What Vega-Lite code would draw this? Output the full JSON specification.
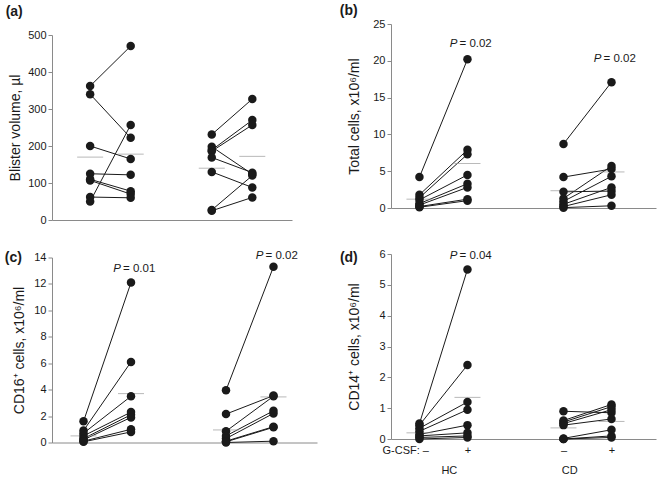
{
"$schema":"https://vega.github.io/schema/vega-lite/v6.json",
"background":"white",
"padding":{"left":4,"top":4,"right":4,"bottom":2},
"config":{
 "font":"Liberation Sans",
 "view":{"stroke":null},
 "axis":{"grid":false,"domainColor":"#8a8a8a","tickColor":"#8a8a8a","labelColor":"#1a1a1a","titleColor":"#1a1a1a","labelFontSize":11,"titleFontSize":14,"titleFontWeight":"normal","labelFont":"Liberation Sans","titleFont":"Liberation Sans"},
 "axisY":{"tickSize":4,"labelPadding":2},
 "title":{"anchor":"start","frame":"bounds","fontSize":14,"fontWeight":"bold","color":"#1a1a1a","font":"Liberation Sans"},
 "line":{"color":"#1a1a1a","strokeWidth":1},
 "circle":{"color":"#1a1a1a","size":72,"opacity":1},
 "tick":{"color":"#9a9a9a","thickness":1,"size":26},
 "text":{"fontSize":11.5,"color":"#1a1a1a","baseline":"middle"}
},
"datasets":{
 "a":[
  {"s":1,"g":"HC","c":"HC-","v":362},{"s":1,"g":"HC","c":"HC+","v":470},
  {"s":2,"g":"HC","c":"HC-","v":340},{"s":2,"g":"HC","c":"HC+","v":222},
  {"s":3,"g":"HC","c":"HC-","v":200},{"s":3,"g":"HC","c":"HC+","v":165},
  {"s":4,"g":"HC","c":"HC-","v":125},{"s":4,"g":"HC","c":"HC+","v":122},
  {"s":5,"g":"HC","c":"HC-","v":110},{"s":5,"g":"HC","c":"HC+","v":78},
  {"s":6,"g":"HC","c":"HC-","v":107},{"s":6,"g":"HC","c":"HC+","v":70},
  {"s":7,"g":"HC","c":"HC-","v":62},{"s":7,"g":"HC","c":"HC+","v":60},
  {"s":8,"g":"HC","c":"HC-","v":50},{"s":8,"g":"HC","c":"HC+","v":257},
  {"s":9,"g":"CD","c":"CD-","v":231},{"s":9,"g":"CD","c":"CD+","v":327},
  {"s":10,"g":"CD","c":"CD-","v":198},{"s":10,"g":"CD","c":"CD+","v":124},
  {"s":11,"g":"CD","c":"CD-","v":189},{"s":11,"g":"CD","c":"CD+","v":270},
  {"s":12,"g":"CD","c":"CD-","v":186},{"s":12,"g":"CD","c":"CD+","v":257},
  {"s":13,"g":"CD","c":"CD-","v":169},{"s":13,"g":"CD","c":"CD+","v":128},
  {"s":14,"g":"CD","c":"CD-","v":130},{"s":14,"g":"CD","c":"CD+","v":88},
  {"s":15,"g":"CD","c":"CD-","v":27},{"s":15,"g":"CD","c":"CD+","v":120},
  {"s":16,"g":"CD","c":"CD-","v":25},{"s":16,"g":"CD","c":"CD+","v":61}
 ],
 "am":[{"c":"HC-","v":170},{"c":"HC+","v":178},{"c":"CD-","v":140},{"c":"CD+","v":172}],
 "b":[
  {"s":1,"g":"HC","c":"HC-","v":4.2},{"s":1,"g":"HC","c":"HC+","v":20.2},
  {"s":2,"g":"HC","c":"HC-","v":1.8},{"s":2,"g":"HC","c":"HC+","v":7.9},
  {"s":3,"g":"HC","c":"HC-","v":1.4},{"s":3,"g":"HC","c":"HC+","v":7.3},
  {"s":4,"g":"HC","c":"HC-","v":1.1},{"s":4,"g":"HC","c":"HC+","v":4.5},
  {"s":5,"g":"HC","c":"HC-","v":0.6},{"s":5,"g":"HC","c":"HC+","v":3.3},
  {"s":6,"g":"HC","c":"HC-","v":0.4},{"s":6,"g":"HC","c":"HC+","v":2.8},
  {"s":7,"g":"HC","c":"HC-","v":0.2},{"s":7,"g":"HC","c":"HC+","v":1.2},
  {"s":8,"g":"HC","c":"HC-","v":0.1},{"s":8,"g":"HC","c":"HC+","v":1.0},
  {"s":9,"g":"CD","c":"CD-","v":8.7},{"s":9,"g":"CD","c":"CD+","v":17.1},
  {"s":10,"g":"CD","c":"CD-","v":4.2},{"s":10,"g":"CD","c":"CD+","v":5.3},
  {"s":11,"g":"CD","c":"CD-","v":2.2},{"s":11,"g":"CD","c":"CD+","v":2.3},
  {"s":12,"g":"CD","c":"CD-","v":1.3},{"s":12,"g":"CD","c":"CD+","v":5.7},
  {"s":13,"g":"CD","c":"CD-","v":0.9},{"s":13,"g":"CD","c":"CD+","v":4.3},
  {"s":14,"g":"CD","c":"CD-","v":0.5},{"s":14,"g":"CD","c":"CD+","v":2.8},
  {"s":15,"g":"CD","c":"CD-","v":0.2},{"s":15,"g":"CD","c":"CD+","v":1.8},
  {"s":16,"g":"CD","c":"CD-","v":0.05},{"s":16,"g":"CD","c":"CD+","v":0.3}
 ],
 "bm":[{"c":"HC-","v":1.2},{"c":"HC+","v":6.05},{"c":"CD-","v":2.35},{"c":"CD+","v":4.9}],
 "bp":[{"c":"HC+","v":22.3,"t":"= 0.02"},{"c":"CD+","v":20.3,"t":"= 0.02"}],
 "c":[
  {"s":1,"g":"HC","c":"HC-","v":1.6},{"s":1,"g":"HC","c":"HC+","v":12.1},
  {"s":2,"g":"HC","c":"HC-","v":0.9},{"s":2,"g":"HC","c":"HC+","v":6.1},
  {"s":3,"g":"HC","c":"HC-","v":0.7},{"s":3,"g":"HC","c":"HC+","v":3.5},
  {"s":4,"g":"HC","c":"HC-","v":0.5},{"s":4,"g":"HC","c":"HC+","v":2.3},
  {"s":5,"g":"HC","c":"HC-","v":0.3},{"s":5,"g":"HC","c":"HC+","v":2.1},
  {"s":6,"g":"HC","c":"HC-","v":0.2},{"s":6,"g":"HC","c":"HC+","v":1.9},
  {"s":7,"g":"HC","c":"HC-","v":0.1},{"s":7,"g":"HC","c":"HC+","v":1.0},
  {"s":8,"g":"HC","c":"HC-","v":0.05},{"s":8,"g":"HC","c":"HC+","v":0.8},
  {"s":9,"g":"CD","c":"CD-","v":3.95},{"s":9,"g":"CD","c":"CD+","v":13.3},
  {"s":10,"g":"CD","c":"CD-","v":2.15},{"s":10,"g":"CD","c":"CD+","v":3.55},
  {"s":11,"g":"CD","c":"CD-","v":0.85},{"s":11,"g":"CD","c":"CD+","v":3.5},
  {"s":12,"g":"CD","c":"CD-","v":0.5},{"s":12,"g":"CD","c":"CD+","v":2.4},
  {"s":13,"g":"CD","c":"CD-","v":0.3},{"s":13,"g":"CD","c":"CD+","v":2.2},
  {"s":14,"g":"CD","c":"CD-","v":0.1},{"s":14,"g":"CD","c":"CD+","v":1.2},
  {"s":15,"g":"CD","c":"CD-","v":0.05},{"s":15,"g":"CD","c":"CD+","v":1.15},
  {"s":16,"g":"CD","c":"CD-","v":0.0},{"s":16,"g":"CD","c":"CD+","v":0.1}
 ],
 "cm":[{"c":"HC-","v":0.5},{"c":"HC+","v":3.7},{"c":"CD-","v":0.95},{"c":"CD+","v":3.45}],
 "cp":[{"c":"HC+","v":13.1,"t":"= 0.01"},{"c":"CD+","v":14.15,"t":"= 0.02"}],
 "d":[
  {"s":1,"g":"HC","c":"HC-","v":0.5},{"s":1,"g":"HC","c":"HC+","v":5.5},
  {"s":2,"g":"HC","c":"HC-","v":0.45},{"s":2,"g":"HC","c":"HC+","v":2.4},
  {"s":3,"g":"HC","c":"HC-","v":0.35},{"s":3,"g":"HC","c":"HC+","v":1.2},
  {"s":4,"g":"HC","c":"HC-","v":0.25},{"s":4,"g":"HC","c":"HC+","v":0.95},
  {"s":5,"g":"HC","c":"HC-","v":0.15},{"s":5,"g":"HC","c":"HC+","v":0.45},
  {"s":6,"g":"HC","c":"HC-","v":0.1},{"s":6,"g":"HC","c":"HC+","v":0.2},
  {"s":7,"g":"HC","c":"HC-","v":0.05},{"s":7,"g":"HC","c":"HC+","v":0.1},
  {"s":8,"g":"HC","c":"HC-","v":0.0},{"s":8,"g":"HC","c":"HC+","v":0.05},
  {"s":9,"g":"CD","c":"CD-","v":0.9},{"s":9,"g":"CD","c":"CD+","v":0.85},
  {"s":10,"g":"CD","c":"CD-","v":0.6},{"s":10,"g":"CD","c":"CD+","v":1.12},
  {"s":11,"g":"CD","c":"CD-","v":0.55},{"s":11,"g":"CD","c":"CD+","v":1.05},
  {"s":12,"g":"CD","c":"CD-","v":0.5},{"s":12,"g":"CD","c":"CD+","v":0.95},
  {"s":13,"g":"CD","c":"CD-","v":0.45},{"s":13,"g":"CD","c":"CD+","v":0.65},
  {"s":14,"g":"CD","c":"CD-","v":0.02},{"s":14,"g":"CD","c":"CD+","v":0.3},
  {"s":15,"g":"CD","c":"CD-","v":0.0},{"s":15,"g":"CD","c":"CD+","v":0.1},
  {"s":16,"g":"CD","c":"CD-","v":0.0},{"s":16,"g":"CD","c":"CD+","v":0.05}
 ],
 "dm":[{"c":"HC-","v":0.2},{"c":"HC+","v":1.35},{"c":"CD-","v":0.36},{"c":"CD+","v":0.57}],
 "dp":[{"c":"HC+","v":5.94,"t":"= 0.04"}]
},
"spacing":22,
"hconcat":[
 {"spacing":24.5,"align":"each","vconcat":[
  {"width":240,"height":196,
   "title":{"text":"(a)","offset":5,"dx":-3},
   "encoding":{
    "x":{"field":"c","type":"nominal","scale":{"type":"point","domain":["HC-","HC+","gap","CD-","CD+"],"padding":0.96,"align":0.49},"axis":{"labels":false,"ticks":false,"title":null}},
    "y":{"field":"v","type":"quantitative","scale":{"domain":[0,500],"nice":false,"range":[196,11]},"axis":{"values":[0,100,200,300,400,500],"title":"Blister volume, µl","titlePadding":5}}},
   "layer":[
    {"data":{"name":"a"},"mark":"line","encoding":{"detail":{"field":"s"}}},
    {"data":{"name":"am"},"mark":"tick"},
    {"data":{"name":"a"},"mark":"circle"}
   ]},
  {"width":265,"height":185,
   "title":{"text":"(c)","offset":-15,"dx":-8},
   "encoding":{
    "x":{"field":"c","type":"nominal","scale":{"type":"point","domain":["HC-","HC+","gap","CD-","CD+"],"padding":0.79,"align":0.42},"axis":{"labels":false,"ticks":false,"title":null}},
    "y":{"field":"v","type":"quantitative","scale":{"domain":[0,14],"nice":false},"axis":{"values":[0,2,4,6,8,10,12,14],"title":"CD16⁺ cells, x10⁶/ml","titlePadding":7}}},
   "layer":[
    {"data":{"name":"c"},"mark":"line","encoding":{"detail":{"field":"s"}}},
    {"data":{"name":"cm"},"mark":"tick"},
    {"data":{"name":"c"},"mark":"circle"},
    {"data":{"name":"cp"},"mark":{"type":"text","text":"P","fontStyle":"italic","align":"right","dx":-10}},
    {"data":{"name":"cp"},"mark":{"type":"text","align":"left","dx":-8},"encoding":{"text":{"field":"t"}}}
   ]}
 ]},
 {"spacing":35,"align":"each","vconcat":[
  {"width":265,"height":184,
   "title":{"text":"(b)","offset":0,"dx":-8},
   "encoding":{
    "x":{"field":"c","type":"nominal","scale":{"type":"point","domain":["HC-","HC+","gap","CD-","CD+"],"padding":0.76,"align":0.39},"axis":{"labels":false,"ticks":false,"title":null}},
    "y":{"field":"v","type":"quantitative","scale":{"domain":[0,25],"nice":false},"axis":{"values":[0,5,10,15,20,25],"title":"Total cells, x10⁶/ml","titlePadding":11}}},
   "layer":[
    {"data":{"name":"b"},"mark":"line","encoding":{"detail":{"field":"s"}}},
    {"data":{"name":"bm"},"mark":"tick"},
    {"data":{"name":"b"},"mark":"circle"},
    {"data":{"name":"bp"},"mark":{"type":"text","text":"P","fontStyle":"italic","align":"right","dx":-10}},
    {"data":{"name":"bp"},"mark":{"type":"text","align":"left","dx":-8},"encoding":{"text":{"field":"t"}}}
   ]},
  {"width":265,"height":185,
   "title":{"text":"(d)","offset":-17,"dx":-8},
   "resolve":{"scale":{"x":"independent"}},
   "layer":[
    {"encoding":{
      "x":{"field":"c","type":"nominal","scale":{"type":"point","domain":["HC-","HC+","gap","CD-","CD+"],"padding":0.76,"align":0.39},
        "axis":{"orient":"bottom","labelAngle":0,"labels":true,"ticks":false,"title":null,"labelPadding":5,"labelFontSize":11,
          "labelExpr":"datum.value === 'HC-' ? 'G-CSF: –' : datum.value === 'CD-' ? '–' : (datum.value === 'HC+' || datum.value === 'CD+') ? '+' : ''",
          "labelAlign":{"condition":{"test":"datum.value === 'HC-'","value":"right"},"value":"center"},
          "labelOffset":{"condition":{"test":"datum.value === 'HC-'","value":9},"value":0}}},
      "y":{"field":"v","type":"quantitative","scale":{"domain":[0,6],"nice":false},"axis":{"values":[0,1,2,3,4,5,6],"title":"CD14⁺ cells, x10⁶/ml","titlePadding":17}}},
     "layer":[
      {"data":{"name":"d"},"mark":"line","encoding":{"detail":{"field":"s"}}},
      {"data":{"name":"dm"},"mark":"tick"},
      {"data":{"name":"d"},"mark":"circle"},
      {"data":{"name":"dp"},"mark":{"type":"text","text":"P","fontStyle":"italic","align":"right","dx":-10}},
      {"data":{"name":"dp"},"mark":{"type":"text","align":"left","dx":-8},"encoding":{"text":{"field":"t"}}}
     ]},
    {"data":{"name":"d"},"mark":{"type":"point","opacity":0},
     "encoding":{
      "x":{"field":"g","type":"nominal","scale":{"type":"point","domain":["HC","CD"],"padding":0.6,"align":0.4},
        "axis":{"orient":"bottom","labelAngle":0,"domain":false,"ticks":false,"labels":true,"title":null,"labelPadding":25,"labelFontSize":11}},
      "y":{"field":"v","type":"quantitative","scale":{"domain":[0,6],"nice":false},"axis":{"values":[0,1,2,3,4,5,6],"title":"CD14⁺ cells, x10⁶/ml","titlePadding":17}}}}
   ]}
 ]}
]
}
